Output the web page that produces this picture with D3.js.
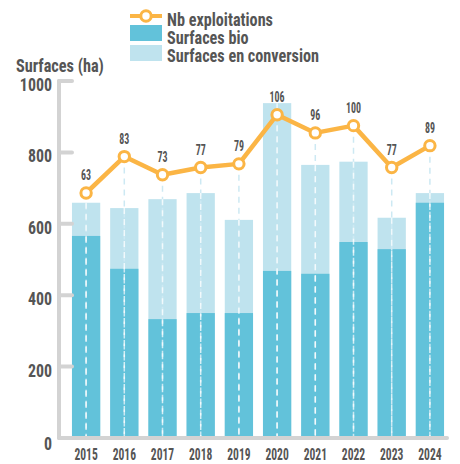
<!DOCTYPE html>
<html>
<head>
<meta charset="utf-8">
<script src="https://cdn.jsdelivr.net/npm/d3@7"></script>
<style>
  body { margin: 0; background: #fff; }
  text { font-family: "Roboto Condensed", Roboto, "DejaVu Sans", sans-serif; font-weight: bold; fill: #555; }
</style>
</head>
<body>
<div id="plot"></div>
<script>
var years = ['2015', '2016', '2017', '2018', '2019', '2020', '2021', '2022', '2023', '2024']
var bio = [566, 474, 333, 350, 350, 468, 460, 549, 529, 659]
var total = [659, 644, 669, 686, 611, 938, 765, 774, 617, 686]
var exploitations = [63, 83, 73, 77, 79, 106, 96, 100, 77, 89]
var yTicks = [0, 200, 400, 600, 800, 1000]

var darkBlue = "#62c2da", lightBlue = "#bfe3ee", orange = "#fbb545", grey = "#d3d3d3"

var width = 460, height = 464

var svg = d3.select("#plot")
  .append("svg")
  .attr("width", width)
  .attr("height", height)

var x = d3.scaleBand()
  .domain(years)
  .range([67, 449])
  .paddingInner(0.26)
  .paddingOuter(0.13)

var y = d3.scaleLinear()
  .domain([0, 1000])
  .range([438, 81])

// secondary scale for the line, no axis drawn
var y2 = d3.scaleLinear()
  .domain([63, 106])
  .range([193, 114.7])

// narrow font: squeeze text horizontally
function place(sel, fx, fy, sx) {
  sel.attr("transform", (d, i) => "translate(" + fx(d, i) + "," + fy(d, i) + ") scale(" + sx + ",1)")
}

// bars
svg.selectAll(".total")
  .data(total)
  .enter()
  .append("rect")
  .attr("x", (d, i) => x(years[i]))
  .attr("y", d => y(d))
  .attr("width", x.bandwidth())
  .attr("height", d => y(0) - y(d))
  .attr("fill", lightBlue)

svg.selectAll(".bio")
  .data(bio)
  .enter()
  .append("rect")
  .attr("x", (d, i) => x(years[i]))
  .attr("y", d => y(d))
  .attr("width", x.bandwidth())
  .attr("height", d => y(0) - y(d))
  .attr("fill", darkBlue)

var cx = (d, i) => x(years[i]) + x.bandwidth() / 2

// dashed drop lines
svg.selectAll(".drop")
  .data(exploitations)
  .enter()
  .append("line")
  .attr("x1", cx).attr("x2", cx)
  .attr("y1", d => y2(d))
  .attr("y2", y(0))
  .attr("stroke", "#cde9f3")
  .attr("stroke-width", 1.5)
  .attr("stroke-dasharray", "6,5")

svg.selectAll(".dropIn")
  .data(total)
  .enter()
  .append("line")
  .attr("x1", cx).attr("x2", cx)
  .attr("y1", d => y(d))
  .attr("y2", y(0))
  .attr("stroke", "#fff")
  .attr("stroke-opacity", 0.75)
  .attr("stroke-width", 1.5)
  .attr("stroke-dasharray", "6,5")

// axes
var yAxis = svg.append("g")
yAxis.append("line")
  .attr("x1", 59).attr("x2", 59)
  .attr("y1", y(1000)).attr("y2", y(0))
  .attr("stroke", grey).attr("stroke-width", 4).attr("stroke-linecap", "round")
yAxis.append("line")
  .attr("x1", 59).attr("x2", 447)
  .attr("y1", y(0)).attr("y2", y(0))
  .attr("stroke", grey).attr("stroke-width", 4).attr("stroke-linecap", "round")
yAxis.selectAll(".tick")
  .data(yTicks.filter(d => d > 0))
  .enter()
  .append("line")
  .attr("x1", 59).attr("x2", 72)
  .attr("y1", d => y(d)).attr("y2", d => y(d))
  .attr("stroke", grey).attr("stroke-width", 4).attr("stroke-linecap", "round")
yAxis.selectAll(".tickLabel")
  .data(yTicks)
  .enter()
  .append("text")
  .attr("text-anchor", "end")
  .attr("font-size", 18.5)
  .text(d => d)
  .call(place, () => 52, d => y(d) + (d == 0 ? 12 : 10), 0.86)

svg.selectAll(".year")
  .data(years)
  .enter()
  .append("text")
  .attr("text-anchor", "middle")
  .attr("font-size", 17)
  .text(d => d)
  .call(place, d => x(d) + x.bandwidth() / 2, () => 460, 0.68)

svg.append("text")
  .attr("font-size", 18.5)
  .text("Surfaces (ha)")
  .call(place, () => 16, () => 72, 0.88)

// line
var line = d3.line()
  .x((d, i) => cx(d, i))
  .y(d => y2(d))

svg.append("path")
  .datum(exploitations)
  .attr("d", line)
  .attr("fill", "none")
  .attr("stroke", orange)
  .attr("stroke-width", 4.5)
  .attr("stroke-linejoin", "round")

svg.selectAll(".dot")
  .data(exploitations)
  .enter()
  .append("circle")
  .attr("cx", cx)
  .attr("cy", d => y2(d))
  .attr("r", 5.2)
  .attr("fill", "#fff")
  .attr("stroke", orange)
  .attr("stroke-width", 3)

svg.selectAll(".val")
  .data(exploitations)
  .enter()
  .append("text")
  .attr("text-anchor", "middle")
  .attr("font-size", 15.5)
  .text(d => d)
  .call(place, cx, d => y2(d) - 13, 0.64)

// legend
var legend = svg.append("g")
legend.append("line")
  .attr("x1", 130).attr("x2", 162).attr("y1", 16).attr("y2", 16)
  .attr("stroke", orange).attr("stroke-width", 4)
legend.append("circle")
  .attr("cx", 146).attr("cy", 16).attr("r", 5.2)
  .attr("fill", "#fff").attr("stroke", orange).attr("stroke-width", 3)
legend.append("rect")
  .attr("x", 130).attr("y", 25).attr("width", 32).attr("height", 16)
  .attr("fill", darkBlue)
legend.append("rect")
  .attr("x", 130).attr("y", 45).attr("width", 32).attr("height", 16)
  .attr("fill", lightBlue)
var legendLabels = ["Nb exploitations", "Surfaces bio", "Surfaces en conversion"]
legend.selectAll(".lbl")
  .data(legendLabels)
  .enter()
  .append("text")
  .attr("font-size", 18)
  .text(d => d)
  .call(place, () => 167, (d, i) => 26 + i * 17.8, 0.9)
</script>
</body>
</html>
